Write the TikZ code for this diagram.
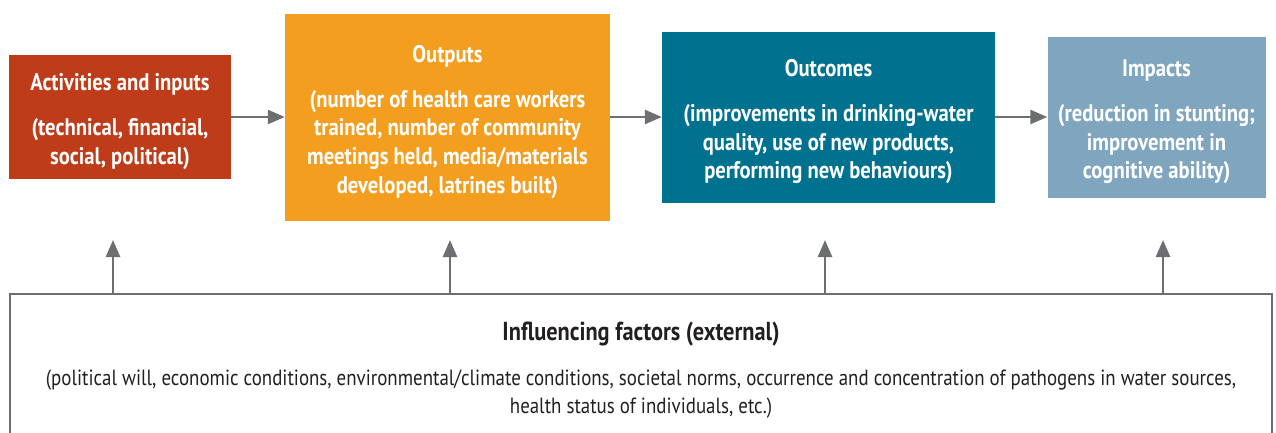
\documentclass[tikz,border=0pt]{standalone}
\usepackage{fontspec}
\setmainfont{PT Sans}[FakeStretch=0.86]
\usetikzlibrary{arrows.meta,calc}
\definecolor{rust}{HTML}{BE3C1A}
\definecolor{orng}{HTML}{F49E1F}
\definecolor{teal}{HTML}{00728F}
\definecolor{steel}{HTML}{7FA6BE}
\definecolor{arrgray}{HTML}{6D6E71}
\definecolor{txtdark}{HTML}{231F20}
\newcommand{\topstrut}{\rule{0pt}{26pt}}
\tikzset{
  box/.style={rectangle, inner sep=0pt, text=white, align=center,
    font=\bfseries\fontsize{24}{28.7}\selectfont},
  arr/.style={draw=arrgray, line width=2.5pt, -{Triangle[length=17pt,width=14pt]}},
}
\begin{document}
\begin{tikzpicture}[x=1pt,y=-1pt]
\useasboundingbox (0,0) rectangle (1276,433);
\node[box, fill=rust, minimum width=222pt, minimum height=124pt] (b1) at (120,117)
  {\topstrut Activities and inputs\\[16pt](technical, financial,\\social, political)};
\node[box, fill=orng, minimum width=325pt, minimum height=207pt] (b2) at (447.5,117.5)
  {\topstrut Outputs\\[16pt](number of health care workers\\trained, number of community\\meetings held, media/materials\\developed, latrines built)};
\node[box, fill=teal, minimum width=333pt, minimum height=171pt] (b3) at (828.5,117.5)
  {\topstrut Outcomes\\[16pt](improvements in drinking-water\\quality, use of new products,\\performing new behaviours)};
\node[box, fill=steel, minimum width=218pt, minimum height=161pt] (b4) at (1156.5,117.5)
  {\topstrut Impacts\\[16pt](reduction in stunting;\\improvement in\\cognitive ability)};
\draw[arr] (b1.east) -- (b1.east -| b2.west);
\draw[arr] (b2.east |- b1.east) -- (b1.east -| b3.west);
\draw[arr] (b3.east |- b1.east) -- (b1.east -| b4.west);
\node[draw=arrgray, line width=2pt, rectangle, minimum width=1262pt, minimum height=200pt, inner sep=0pt] (inf) at (641,394) {};
\node[text=txtdark, font=\bfseries\fontsize{26}{30}\selectfont] (inft) at (641,334) {Influencing factors (external)};
\node[text=txtdark, align=center, font=\fontsize{22}{27.5}\selectfont] (infb) at (641,394)
  {(political will, economic conditions, environmental/climate conditions, societal norms, occurrence and concentration of pathogens in water sources,\\health status of individuals, etc.)};
\coordinate (u1) at (113,240);
\coordinate (u2) at (450,240);
\coordinate (u3) at (825,240);
\coordinate (u4) at (1163,240);
\foreach \u in {u1,u2,u3,u4} \draw[arr] (inf.north -| \u) -- (\u);
\end{tikzpicture}
\end{document}
